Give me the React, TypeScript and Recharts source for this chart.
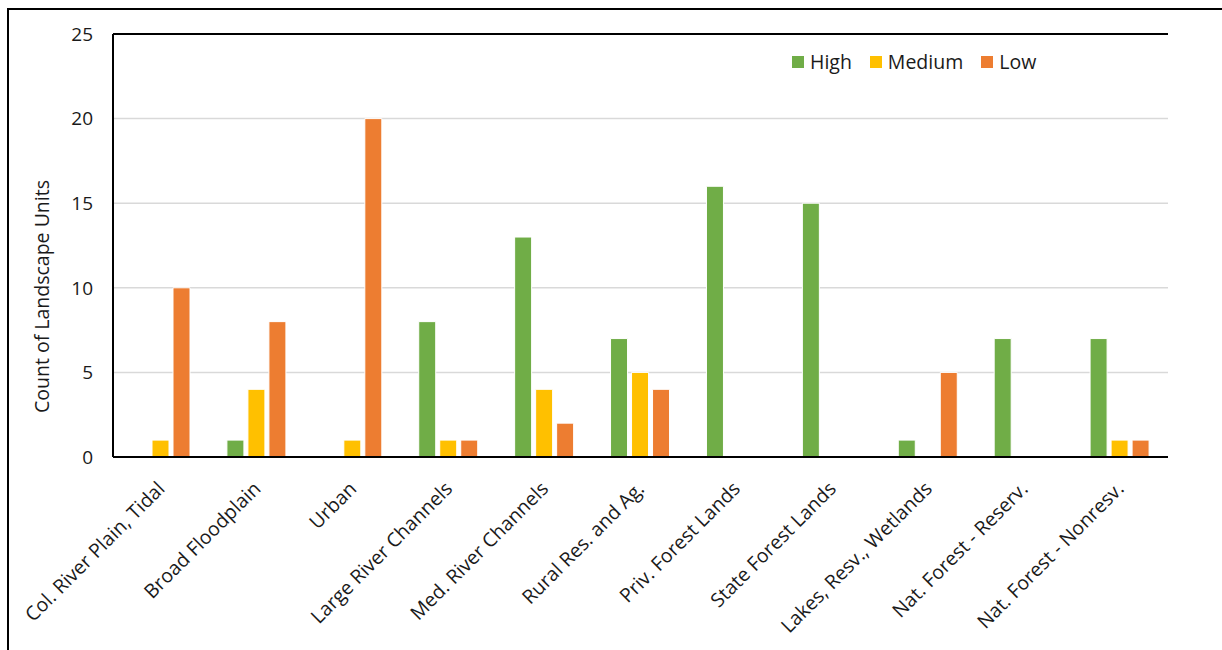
import { BarChart, Bar, XAxis, YAxis, CartesianGrid, ReferenceLine, Legend } from 'recharts';

const categories = [
  'Col. River Plain, Tidal',
  'Broad Floodplain',
  'Urban',
  'Large River Channels',
  'Med. River Channels',
  'Rural Res. and Ag.',
  'Priv. Forest Lands',
  'State Forest Lands',
  'Lakes, Resv., Wetlands',
  'Nat. Forest - Reserv.',
  'Nat. Forest - Nonresv.',
];
const high = [0, 1, 0, 8, 13, 7, 16, 15, 1, 7, 7];
const medium = [1, 4, 1, 1, 4, 5, 0, 0, 0, 0, 1];
const low = [10, 8, 20, 1, 2, 4, 0, 0, 5, 0, 1];
const yTicks = [0, 5, 10, 15, 20, 25];

const seriesNames = ['High', 'Medium', 'Low'];
const seriesColors = ['#70ad47', '#ffc000', '#ed7d31'];

const FONT = '"Open Sans", sans-serif';
const TEXT = '#1a1a1a';

const data = categories.map((name, i) => ({ name, High: high[i], Medium: medium[i], Low: low[i] }));

// rotated category labels, anchored at their end
const CategoryTick = (props: any) => {
  const { x, y, payload } = props;
  return (
    <g transform={`translate(${x + 5},${y + 33})`}>
      <text textAnchor="end" transform="rotate(-45)" fontSize={19.5} fontFamily={FONT} fill={TEXT}>
        {payload.value}
      </text>
    </g>
  );
};

// axis title sits a bit below the plot's middle, like the Excel original
const YTitle = (props: any) => {
  const { viewBox } = props;
  const cx = viewBox.x - 4;
  const cy = viewBox.y + viewBox.height / 2 + 51;
  return (
    <text
      x={cx}
      y={cy}
      transform={`rotate(-90 ${cx} ${cy})`}
      textAnchor="middle"
      fontSize={19.5}
      fontFamily={FONT}
      fill={TEXT}
    >
      Count of Landscape Units
    </text>
  );
};

// keep legend in series order (High, Medium, Low)
const LegendContent = () => (
  <div style={{ display: 'flex', fontFamily: FONT, fontSize: 19.5, color: TEXT, lineHeight: '24px' }}>
    {seriesNames.map((name, i) => (
      <div key={name} style={{ display: 'flex', alignItems: 'center', marginRight: 18 }}>
        <span style={{ width: 12, height: 12, background: seriesColors[i], marginRight: 6 }} />
        {name}
      </div>
    ))}
  </div>
);

export default function App() {
  return (
    <div style={{ position: 'absolute', left: 0, top: 0, width: 1222, height: 650, background: '#fff', overflow: 'hidden' }}>
      <div
        style={{
          position: 'absolute', left: 7, top: 8, width: 1300, height: 700,
          borderLeft: '2px solid #000', borderTop: '2px solid #000',
        }}
      />
      <BarChart
        width={1222}
        height={650}
        data={data}
        margin={{ top: 34, right: 54, left: 53, bottom: 3 }}
        barSize={17}
        barGap={4}
      >
        <CartesianGrid vertical={false} stroke="#d9d9d9" strokeWidth={1.5} />
        <XAxis
          dataKey="name"
          interval={0}
          height={190}
          tickLine={false}
          tickSize={0}
          tickMargin={0}
          axisLine={{ stroke: '#000', strokeWidth: 2 }}
          tick={<CategoryTick />}
        />
        <YAxis
          domain={[0, 25]}
          ticks={yTicks}
          width={60}
          tickLine={false}
          axisLine={{ stroke: '#000', strokeWidth: 2 }}
          tickMargin={14}
          tick={{ fontSize: 19, fontFamily: FONT, fill: TEXT }}
          label={<YTitle />}
        />
        <YAxis
          yAxisId="right"
          orientation="right"
          domain={[0, 25]}
          width={0}
          tick={false}
          tickLine={false}
          axisLine={{ stroke: '#000', strokeWidth: 2 }}
        />
        <ReferenceLine y={25} stroke="#000" strokeWidth={2} />
        <Legend
          layout="horizontal"
          verticalAlign="middle"
          align="center"
          content={<LegendContent />}
          wrapperStyle={{ left: 792, top: 50, width: 340 }}
        />
        <Bar dataKey="High" fill={seriesColors[0]} stroke="#fff" strokeWidth={1} isAnimationActive={false} />
        <Bar dataKey="Medium" fill={seriesColors[1]} stroke="#fff" strokeWidth={1} isAnimationActive={false} />
        <Bar dataKey="Low" fill={seriesColors[2]} stroke="#fff" strokeWidth={1} isAnimationActive={false} />
      </BarChart>
    </div>
  );
}
